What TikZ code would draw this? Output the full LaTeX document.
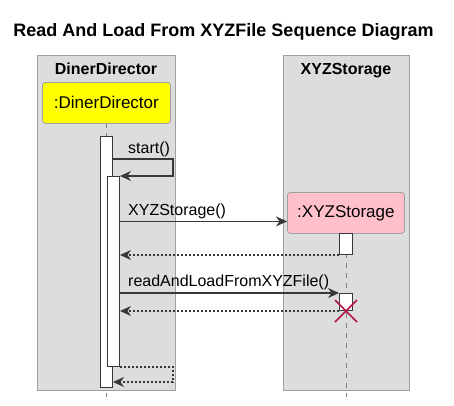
\documentclass[tikz,border=0pt]{standalone}
\usepackage{fontspec}
\setmainfont{Liberation Sans}
\usetikzlibrary{arrows.meta,calc}
\definecolor{lanefill}{HTML}{DDDDDD}
\definecolor{laneline}{HTML}{A0A0A0}
\definecolor{inkline}{HTML}{383838}
\definecolor{partyellow}{HTML}{FFFF00}
\definecolor{partpink}{HTML}{FFC0CB}
\definecolor{crosscol}{HTML}{B0144A}
\begin{document}
\begin{tikzpicture}[x=1pt,y=-1pt,
  lane/.style={draw=laneline, fill=lanefill, line width=1pt, inner sep=0pt, anchor=north west},
  hdr/.style={font=\bfseries\fontsize{16}{18}\selectfont, anchor=base},
  part/.style={draw=laneline, rounded corners=3pt, line width=0.8pt, inner sep=0pt, anchor=north west, font=\fontsize{17}{19}\selectfont},
  act/.style={draw=inkline, fill=white, line width=1pt, inner sep=0pt, anchor=north west},
  life/.style={draw=gray, line width=0.8pt, dash pattern=on 5pt off 5pt},
  msg/.style={draw=inkline, line width=1.1pt, -{Stealth[length=11pt,width=10pt,inset=3.5pt]}},
  ret/.style={msg, dash pattern=on 2pt off 2pt},
  lbl/.style={font=\fontsize{16}{18}\selectfont, anchor=base west, inner sep=0pt}
]
\useasboundingbox (0,0) rectangle (454,405);
% title
\node[font=\bfseries\fontsize{18}{20}\selectfont, anchor=base] (title) at (223.5,36) {Read And Load From XYZFile Sequence Diagram};
% lanes
\node[lane, minimum width=138pt, minimum height=335pt] (laneA) at (37,55) {};
\node[lane, minimum width=126pt, minimum height=335pt] (laneB) at (283,55) {};
\node[hdr] (hA) at (106,74) {DinerDirector};
\node[hdr] (hB) at (346,74) {XYZStorage};
% lifelines
\coordinate (lAtop) at (106,123);
\coordinate (lAbot) at (106,397);
\coordinate (lBtop) at (346,233);
\coordinate (lBbot) at (346,397);
\draw[life] (lAtop) -- (lAbot);
\draw[life] (lBtop) -- (lBbot);
% participants
\node[part, fill=partyellow, minimum width=128pt, minimum height=41pt] (pA) at (42,82) {:DinerDirector};
\node[part, fill=partpink, minimum width=117pt, minimum height=41pt] (pB) at (287,192) {:XYZStorage};
% activations
\node[act, minimum width=12pt, minimum height=251pt] (actA1) at (100,136) {};
\node[act, minimum width=12pt, minimum height=190pt] (actA2) at (107,176) {};
\node[act, minimum width=13pt, minimum height=21pt] (actB1) at (339,233) {};
\node[act, minimum width=13pt, minimum height=17pt] (actB2) at (339,293) {};
% messages
\coordinate (s1) at ($(actA1.north east)+(0,23)$);
\draw[msg] (s1) -- ++(60,0) |- (actA2.north east);
\node[lbl] (lstart) at (128,153) {start()};
\coordinate (m1) at ($(pB.west)+(0,8.5)$);
\draw[msg] (actA2.east |- m1) -- (m1);
\node[lbl] (lxyz) at (128,215) {XYZStorage()};
\draw[ret] (actB1.south west) -- (actA2.east |- actB1.south west);
\draw[msg] (actA2.east |- actB2.north west) -- (actB2.north west);
\node[lbl] (lread) at (128,286) {readAndLoadFromXYZFile()};
\draw[ret] (actB2.south west) -- (actA2.east |- actB2.south west);
\coordinate (r3) at ($(actA1.south east)+(0,-6)$);
\draw[ret] (actA2.south east) -- ++(53,0) |- (r3);
% destroy
\draw[crosscol, line width=1.6pt] ($(actB2.south)+(-11,-11)$) -- ($(actB2.south)+(11,11)$)
  ($(actB2.south)+(-11,11)$) -- ($(actB2.south)+(11,-11)$);
\end{tikzpicture}
\end{document}
